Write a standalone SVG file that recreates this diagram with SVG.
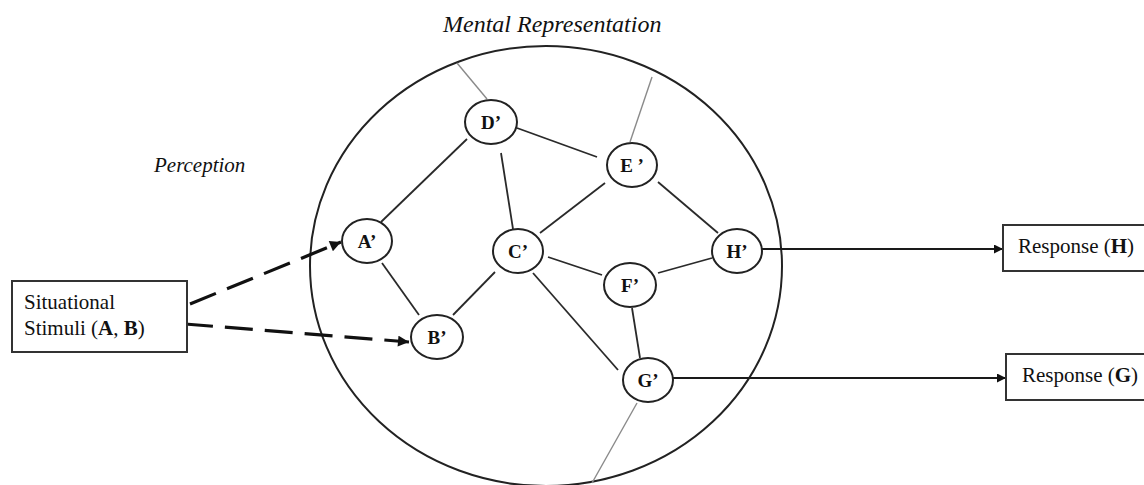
<svg xmlns="http://www.w3.org/2000/svg" width="1144" height="485" viewBox="0 0 1144 485">
  <style>
    .bg { fill: #ffffff; }
    .frame { fill: none; stroke: #222; stroke-width: 2; }
    .node { fill: #ffffff; stroke: #222; stroke-width: 2; }
    .box { fill: #ffffff; stroke: #333; stroke-width: 2; }
    .link { stroke: #2a2a2a; stroke-width: 1.8; fill: none; }
    .faint { stroke: #8a8a8a; stroke-width: 1.4; fill: none; }
    .dash { stroke: #111; stroke-width: 3.2; fill: none; stroke-dasharray: 28 12; }
    .out { stroke: #1a1a1a; stroke-width: 2.2; fill: none; }
    text { font-family: "Liberation Serif", "DejaVu Serif", serif; fill: #111; }
    .lbl { font-weight: bold; font-size: 19px; text-anchor: middle; }
    .cap { font-style: italic; }
    .txt { font-size: 21px; }
    .b { font-weight: bold; }
  </style>
  <defs>
    <marker id="head" viewBox="0 0 10 10" refX="10" refY="5" markerWidth="10" markerHeight="9" markerUnits="userSpaceOnUse" orient="auto">
      <path d="M0,0 L10,5 L0,10 Z" fill="#111"/>
    </marker>
    <marker id="headBig" viewBox="0 0 10 10" refX="10" refY="5" markerWidth="14" markerHeight="11" markerUnits="userSpaceOnUse" orient="auto">
      <path d="M0,0 L10,5 L0,10 Z" fill="#111"/>
    </marker>
  </defs>

  <rect class="bg" x="0" y="0" width="1144" height="485"/>

  <!-- captions -->
  <text class="cap" x="443" y="32" font-size="24">Mental Representation</text>
  <text class="cap" x="154" y="172" font-size="21">Perception</text>

  <!-- boundary of the mental representation -->
  <ellipse class="frame" cx="546" cy="266" rx="236" ry="220"/>

  <!-- connectors -->
  <g id="connectors">
    <!-- links leaving the representation -->
    <line class="faint" x1="457" y1="63" x2="487" y2="99"/>
    <line class="faint" x1="652" y1="77" x2="630" y2="142"/>
    <line class="faint" x1="637" y1="403" x2="592" y2="483"/>

    <!-- associations between concepts -->
    <line class="link" x1="381" y1="222" x2="467" y2="139"/>
    <line class="link" x1="382" y1="263" x2="419" y2="315"/>
    <line class="link" x1="501" y1="153" x2="513" y2="229"/>
    <line class="link" x1="517" y1="128" x2="597" y2="157"/>
    <line class="link" x1="605" y1="183" x2="540" y2="233"/>
    <line class="link" x1="658" y1="182" x2="718" y2="233"/>
    <line class="link" x1="495" y1="272" x2="453" y2="315"/>
    <line class="link" x1="548" y1="257" x2="602" y2="275"/>
    <line class="link" x1="533" y1="273" x2="618" y2="370"/>
    <line class="link" x1="658" y1="273" x2="712" y2="258"/>
    <line class="link" x1="632" y1="308" x2="640" y2="358"/>

    <!-- perception of stimuli -->
    <line class="dash" x1="190" y1="304" x2="341" y2="242" marker-end="url(#headBig)"/>
    <line class="dash" x1="185" y1="324" x2="409" y2="342" marker-end="url(#headBig)"/>

    <!-- responses -->
    <line class="out" x1="762" y1="249" x2="1003" y2="249" marker-end="url(#head)"/>
    <line class="out" x1="673" y1="378" x2="1006" y2="378" marker-end="url(#head)"/>
  </g>

  <!-- stimulus and response boxes -->
  <g id="stimuli">
    <rect class="box" x="12" y="281" width="175" height="71"/>
    <text class="txt" x="24" y="309">Situational</text>
    <text class="txt" x="24" y="335">Stimuli (<tspan class="b">A</tspan>, <tspan class="b">B</tspan>)</text>
  </g>
  <g id="response-h">
    <rect class="box" x="1003" y="225" width="160" height="46"/>
    <text class="txt" x="1018" y="253">Response (<tspan class="b">H</tspan>)</text>
  </g>
  <g id="response-g">
    <rect class="box" x="1006" y="354" width="160" height="46"/>
    <text class="txt" x="1022" y="382">Response (<tspan class="b">G</tspan>)</text>
  </g>

  <!-- concept nodes -->
  <g id="node-a"><ellipse class="node" cx="367" cy="241" rx="25" ry="22"/><text class="lbl" x="367" y="248">A’</text></g>
  <g id="node-b"><ellipse class="node" cx="437" cy="337" rx="26" ry="22"/><text class="lbl" x="437" y="344">B’</text></g>
  <g id="node-c"><ellipse class="node" cx="518" cy="251" rx="25" ry="22"/><text class="lbl" x="518" y="258">C’</text></g>
  <g id="node-d"><ellipse class="node" cx="491" cy="122" rx="26" ry="22"/><text class="lbl" x="491" y="129">D’</text></g>
  <g id="node-e"><ellipse class="node" cx="632" cy="165" rx="25" ry="22"/><text class="lbl" x="632" y="172">E ’</text></g>
  <g id="node-f"><ellipse class="node" cx="630" cy="285" rx="26" ry="22"/><text class="lbl" x="630" y="292">F’</text></g>
  <g id="node-g"><ellipse class="node" cx="648" cy="380" rx="25" ry="22"/><text class="lbl" x="648" y="387">G’</text></g>
  <g id="node-h"><ellipse class="node" cx="737" cy="251" rx="25" ry="22"/><text class="lbl" x="737" y="258">H’</text></g>
</svg>
